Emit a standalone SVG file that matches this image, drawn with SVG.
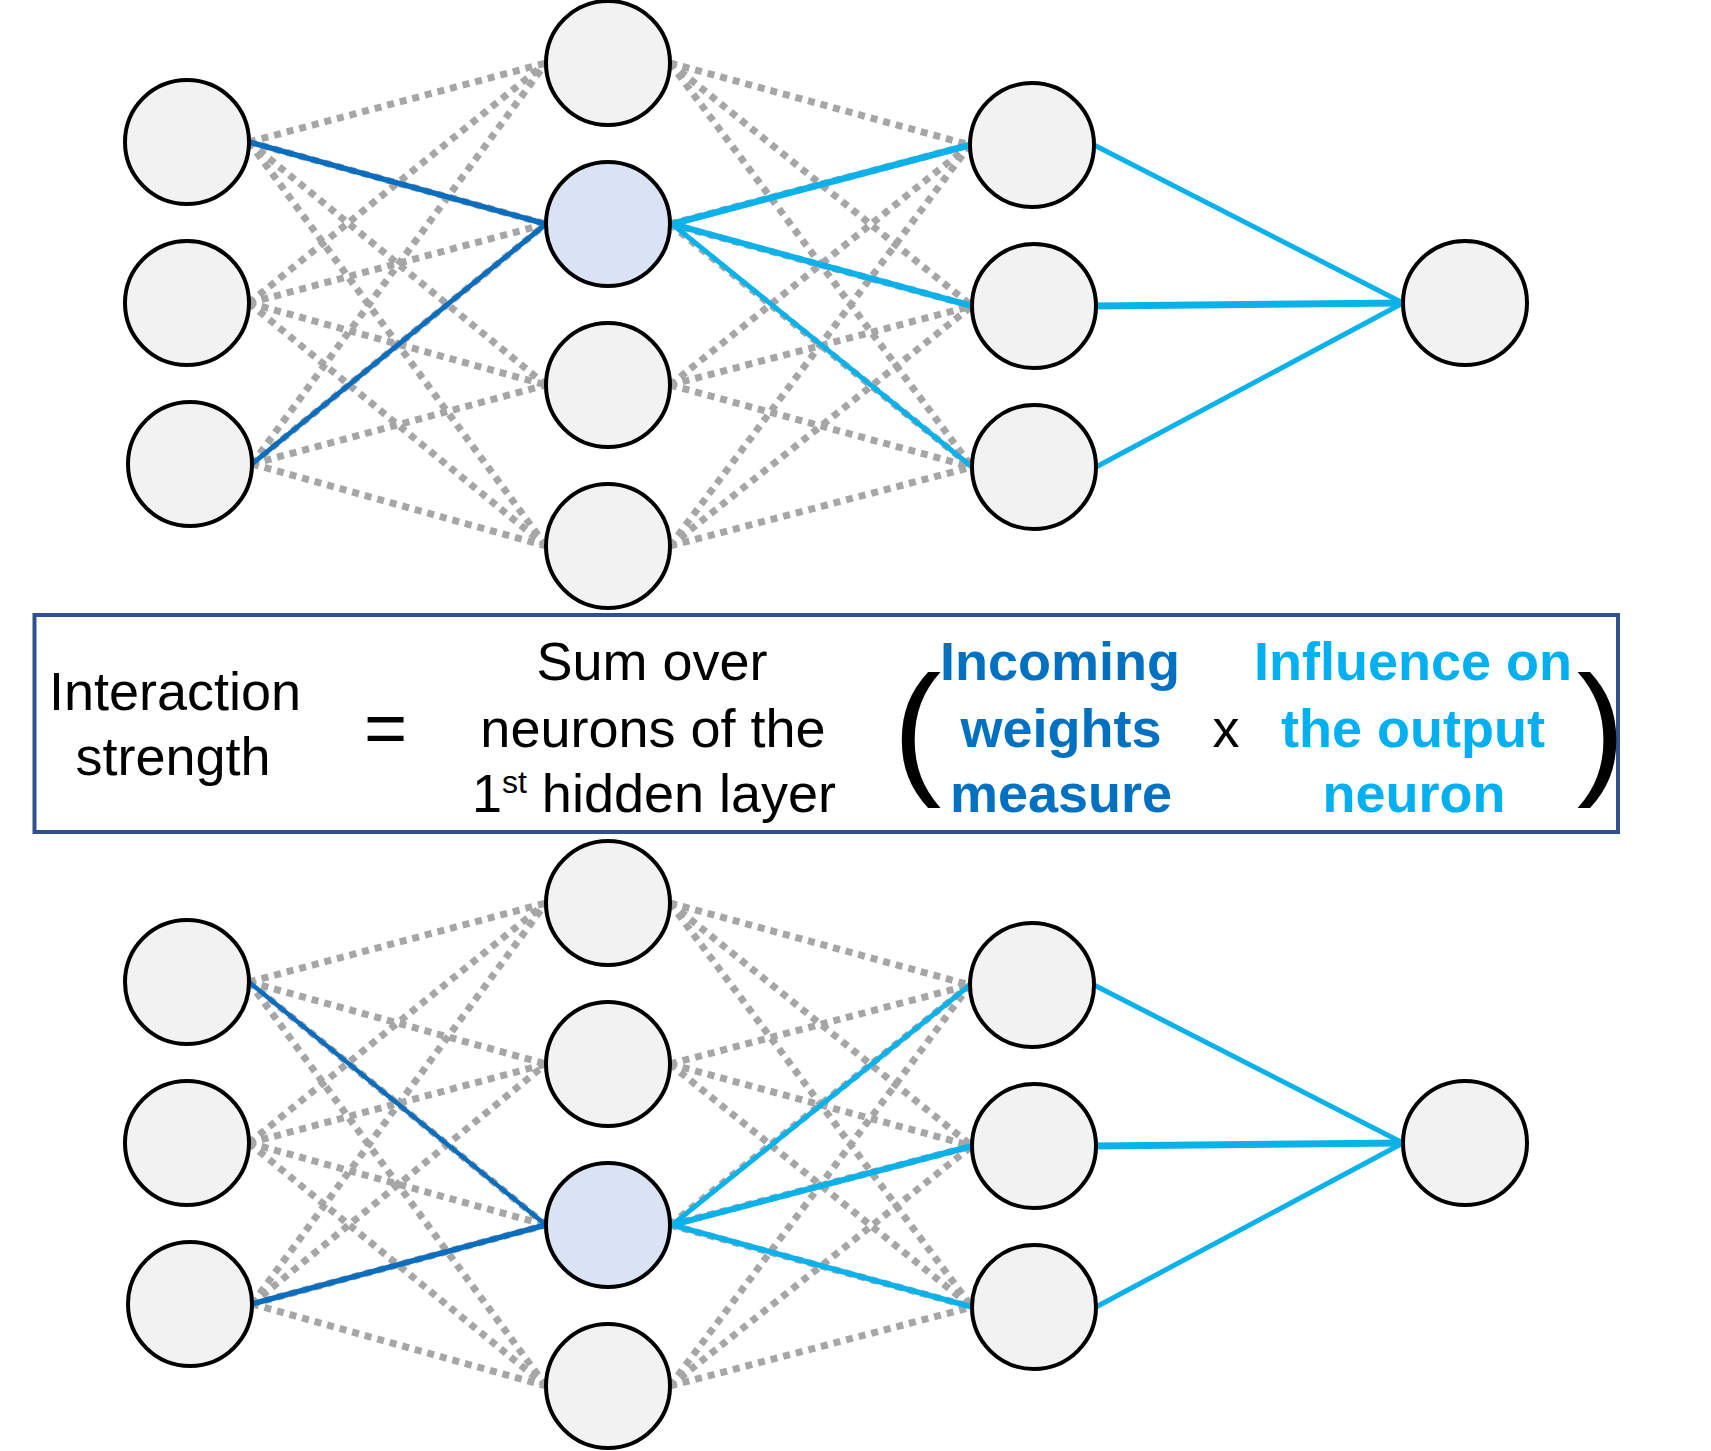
<svg xmlns="http://www.w3.org/2000/svg" width="1711" height="1451" viewBox="0 0 1711 1451">
<style>
.dot{stroke:#a6a6a6;stroke-width:7;stroke-dasharray:7 6;fill:none}
.inw{stroke:#0a6dbd;fill:none;stroke-linecap:round}
.inf{stroke:#0bb2ea;fill:none;stroke-linecap:round}
.node{fill:#f2f2f2;stroke:#000;stroke-width:4}
.hl{fill:#dae3f3}
text{font-family:"Liberation Sans",Arial,sans-serif;fill:#000}
.t{font-size:54px;text-anchor:middle}
.b{font-weight:bold}
.c1{fill:#0070c0}
.c2{fill:#00b0f0}
</style>
<rect width="1711" height="1451" fill="#fff"/>

<g id="top-network">
<g id="top-connectors">
<line class="dot" x1="249" y1="142" x2="546" y2="63"/>
<line class="dot" x1="249" y1="142" x2="546" y2="224"/>
<line class="dot" x1="249" y1="142" x2="546" y2="385"/>
<line class="dot" x1="249" y1="142" x2="546" y2="546"/>
<line class="dot" x1="249" y1="303" x2="546" y2="63"/>
<line class="dot" x1="249" y1="303" x2="546" y2="224"/>
<line class="dot" x1="249" y1="303" x2="546" y2="385"/>
<line class="dot" x1="249" y1="303" x2="546" y2="546"/>
<line class="dot" x1="252" y1="464" x2="546" y2="63"/>
<line class="dot" x1="252" y1="464" x2="546" y2="224"/>
<line class="dot" x1="252" y1="464" x2="546" y2="385"/>
<line class="dot" x1="252" y1="464" x2="546" y2="546"/>
<line class="dot" x1="670" y1="63" x2="970" y2="145"/>
<line class="dot" x1="670" y1="63" x2="972" y2="306"/>
<line class="dot" x1="670" y1="63" x2="972" y2="467"/>
<line class="dot" x1="670" y1="224" x2="970" y2="145"/>
<line class="dot" x1="670" y1="224" x2="972" y2="306"/>
<line class="dot" x1="670" y1="224" x2="972" y2="467"/>
<line class="dot" x1="670" y1="385" x2="970" y2="145"/>
<line class="dot" x1="670" y1="385" x2="972" y2="306"/>
<line class="dot" x1="670" y1="385" x2="972" y2="467"/>
<line class="dot" x1="670" y1="546" x2="970" y2="145"/>
<line class="dot" x1="670" y1="546" x2="972" y2="306"/>
<line class="dot" x1="670" y1="546" x2="972" y2="467"/>
<line class="inw" stroke-width="5.5" x1="249" y1="142" x2="546" y2="224"/>
<line class="inw" stroke-width="5" x1="252" y1="464" x2="546" y2="224"/>
<line class="inf" stroke-width="6.5" x1="672" y1="224" x2="970" y2="145"/>
<line class="inf" stroke-width="6" x1="672" y1="224" x2="972" y2="306"/>
<line class="inf" stroke-width="5" x1="672" y1="224" x2="972" y2="467"/>
<line class="inf" stroke-width="5" x1="1094" y1="145" x2="1403" y2="303"/>
<line class="inf" stroke-width="7" x1="1096" y1="306" x2="1403" y2="303"/>
<line class="inf" stroke-width="5" x1="1096" y1="467" x2="1403" y2="303"/>
</g>
<g id="top-in1"><circle class="node" cx="187" cy="142" r="62"/></g>
<g id="top-in2"><circle class="node" cx="187" cy="303" r="62"/></g>
<g id="top-in3"><circle class="node" cx="190" cy="464" r="62"/></g>
<g id="top-h1"><circle class="node" cx="608" cy="63" r="62"/></g>
<g id="top-h2"><circle class="node hl" cx="608" cy="224" r="62"/></g>
<g id="top-h3"><circle class="node" cx="608" cy="385" r="62"/></g>
<g id="top-h4"><circle class="node" cx="608" cy="546" r="62"/></g>
<g id="top-o1"><circle class="node" cx="1032" cy="145" r="62"/></g>
<g id="top-o2"><circle class="node" cx="1034" cy="306" r="62"/></g>
<g id="top-o3"><circle class="node" cx="1034" cy="467" r="62"/></g>
<g id="top-out"><circle class="node" cx="1465" cy="303" r="62"/></g>
</g>

<g id="formula-box">
<rect x="34.5" y="615" width="1583.5" height="217" fill="#fff" stroke="#2f528f" stroke-width="4"/>
<text class="t" x="175" y="710">Interaction</text>
<text class="t" x="173" y="775">strength</text>
<text x="385.5" y="753" font-size="74" text-anchor="middle">=</text>
<text class="t" x="652" y="680">Sum over</text>
<text class="t" x="653" y="747">neurons of the</text>
<text class="t" x="654" y="812">1<tspan font-size="32" dy="-19">st</tspan><tspan dy="19"> hidden layer</tspan></text>
<text x="917" y="778" font-size="146" text-anchor="middle">(</text>
<text class="t b c1" x="1060" y="680">Incoming</text>
<text class="t b c1" x="1061" y="747">weights</text>
<text class="t b c1" x="1061" y="812">measure</text>
<text class="t" x="1226" y="747">x</text>
<text class="t b c2" x="1413" y="680">Influence on</text>
<text class="t b c2" x="1413" y="747">the output</text>
<text class="t b c2" x="1414" y="812">neuron</text>
<text x="1601" y="778" font-size="146" text-anchor="middle">)</text>
</g>

<g id="bottom-network" transform="translate(0,840)">
<g id="bottom-connectors">
<line class="dot" x1="249" y1="142" x2="546" y2="63"/>
<line class="dot" x1="249" y1="142" x2="546" y2="224"/>
<line class="dot" x1="249" y1="142" x2="546" y2="385"/>
<line class="dot" x1="249" y1="142" x2="546" y2="546"/>
<line class="dot" x1="249" y1="303" x2="546" y2="63"/>
<line class="dot" x1="249" y1="303" x2="546" y2="224"/>
<line class="dot" x1="249" y1="303" x2="546" y2="385"/>
<line class="dot" x1="249" y1="303" x2="546" y2="546"/>
<line class="dot" x1="252" y1="464" x2="546" y2="63"/>
<line class="dot" x1="252" y1="464" x2="546" y2="224"/>
<line class="dot" x1="252" y1="464" x2="546" y2="385"/>
<line class="dot" x1="252" y1="464" x2="546" y2="546"/>
<line class="dot" x1="670" y1="63" x2="970" y2="145"/>
<line class="dot" x1="670" y1="63" x2="972" y2="306"/>
<line class="dot" x1="670" y1="63" x2="972" y2="467"/>
<line class="dot" x1="670" y1="224" x2="970" y2="145"/>
<line class="dot" x1="670" y1="224" x2="972" y2="306"/>
<line class="dot" x1="670" y1="224" x2="972" y2="467"/>
<line class="dot" x1="670" y1="385" x2="970" y2="145"/>
<line class="dot" x1="670" y1="385" x2="972" y2="306"/>
<line class="dot" x1="670" y1="385" x2="972" y2="467"/>
<line class="dot" x1="670" y1="546" x2="970" y2="145"/>
<line class="dot" x1="670" y1="546" x2="972" y2="306"/>
<line class="dot" x1="670" y1="546" x2="972" y2="467"/>
<line class="inw" stroke-width="4.5" x1="249" y1="142" x2="546" y2="385"/>
<line class="inw" stroke-width="5.5" x1="252" y1="464" x2="546" y2="385"/>
<line class="inf" stroke-width="5" x1="672" y1="385" x2="970" y2="145"/>
<line class="inf" stroke-width="6" x1="672" y1="385" x2="972" y2="306"/>
<line class="inf" stroke-width="5.5" x1="672" y1="385" x2="972" y2="467"/>
<line class="inf" stroke-width="5" x1="1094" y1="145" x2="1403" y2="303"/>
<line class="inf" stroke-width="7" x1="1096" y1="306" x2="1403" y2="303"/>
<line class="inf" stroke-width="5" x1="1096" y1="467" x2="1403" y2="303"/>
</g>
<g id="bot-in1"><circle class="node" cx="187" cy="142" r="62"/></g>
<g id="bot-in2"><circle class="node" cx="187" cy="303" r="62"/></g>
<g id="bot-in3"><circle class="node" cx="190" cy="464" r="62"/></g>
<g id="bot-h1"><circle class="node" cx="608" cy="63" r="62"/></g>
<g id="bot-h2"><circle class="node" cx="608" cy="224" r="62"/></g>
<g id="bot-h3"><circle class="node hl" cx="608" cy="385" r="62"/></g>
<g id="bot-h4"><circle class="node" cx="608" cy="546" r="62"/></g>
<g id="bot-o1"><circle class="node" cx="1032" cy="145" r="62"/></g>
<g id="bot-o2"><circle class="node" cx="1034" cy="306" r="62"/></g>
<g id="bot-o3"><circle class="node" cx="1034" cy="467" r="62"/></g>
<g id="bot-out"><circle class="node" cx="1465" cy="303" r="62"/></g>
</g>
</svg>
